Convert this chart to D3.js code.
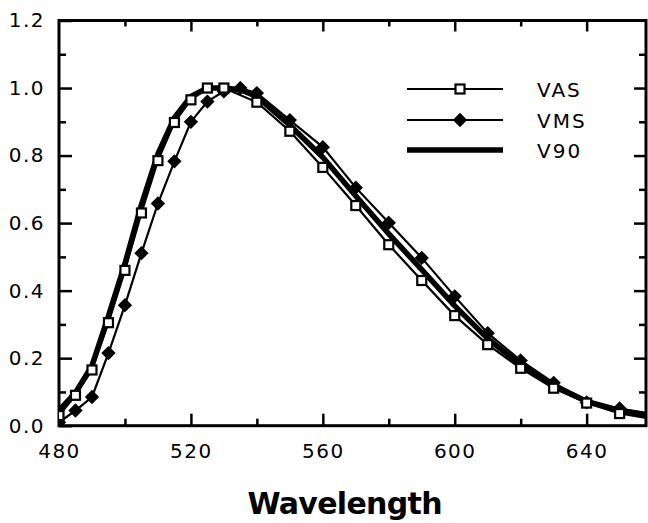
<!DOCTYPE html>
<html>
<head>
<meta charset="utf-8">
<script src="https://cdn.jsdelivr.net/npm/d3@7"></script>
<style>
  body { margin: 0; background: #fff; }
  svg { display: block; }
  text { font-family: "DejaVu Sans", sans-serif; fill: #000; }
</style>
</head>
<body>
<div id="vizContainer"></div>
<script>
let w = 648;
let h = 523;

// data
let vasWave = [480, 485, 490, 495, 500, 505, 510, 515, 520, 525, 530, 540, 550, 560, 570, 580, 590, 600, 610, 620, 630, 640, 650, 660];
let vasValues = [0.03, 0.09, 0.165, 0.305, 0.46, 0.63, 0.785, 0.898, 0.965, 1.0, 1.0, 0.958, 0.872, 0.765, 0.652, 0.536, 0.43, 0.326, 0.24, 0.17, 0.111, 0.067, 0.036, 0.02];

let vmsWave = [480, 485, 490, 495, 500, 505, 510, 515, 520, 525, 530, 535, 540, 550, 560, 570, 580, 590, 600, 610, 620, 630, 640, 650, 660];
let vmsValues = [0.01, 0.045, 0.085, 0.215, 0.357, 0.511, 0.658, 0.783, 0.9, 0.96, 0.99, 1.0, 0.985, 0.905, 0.825, 0.705, 0.601, 0.497, 0.383, 0.274, 0.193, 0.127, 0.069, 0.051, 0.035];

let v90Wave = [480, 485, 490, 495, 500, 505, 510, 515, 520, 525, 530, 535, 540, 550, 560, 570, 580, 590, 600, 610, 620, 630, 640, 650, 660];
let v90Values = [0.045, 0.098, 0.178, 0.325, 0.48, 0.655, 0.805, 0.912, 0.975, 1.0, 1.0, 0.995, 0.975, 0.89, 0.795, 0.68, 0.568, 0.462, 0.355, 0.258, 0.18, 0.12, 0.072, 0.045, 0.028];

let xMajor = [480, 520, 560, 600, 640];
let xMinor = [500, 540, 580, 620];
let yMajor = [0, 0.2, 0.4, 0.6, 0.8, 1.0, 1.2];
let yMinor = [0.1, 0.3, 0.5, 0.7, 0.9, 1.1];

let legendNames = ["VAS", "VMS", "V90"];

let pLeft = 59, pRight = 646, pTop = 20.5, pBottom = 425.7;

let viz = d3.select("#vizContainer").append("svg")
	.attr("width", w)
	.attr("height", h)
	.attr("class", "viz")
	;

let xScale = d3.scaleLinear().domain([480, 658]).range([pLeft, pRight]);
let yScale = d3.scaleLinear().domain([0, 1.2]).range([pBottom, pTop]);

viz.append("clipPath").attr("id", "plotClip")
	.append("rect")
	.attr("x", pLeft).attr("y", pTop - 10)
	.attr("width", pRight - pLeft).attr("height", pBottom - pTop + 10);

// axes: major + minor ticks, pointing inward on all four sides
function styleAxis(g, showText) {
	g.select(".domain").remove();
	g.selectAll("line").attr("stroke", "#000").attr("stroke-width", 2.5);
	if (!showText) g.selectAll("text").remove();
	g.selectAll("text").attr("font-size", 20).attr("letter-spacing", 1.5).attr("fill", "#000")
		.style("font-family", "'DejaVu Sans', sans-serif");
}

viz.append("g").attr("transform", "translate(0," + pBottom + ")")
	.call(d3.axisBottom(xScale).tickValues(xMajor).tickSize(-12).tickPadding(18).tickFormat(d3.format("d")))
	.call(g => styleAxis(g, true));
viz.append("g").attr("transform", "translate(0," + pBottom + ")")
	.call(d3.axisBottom(xScale).tickValues(xMinor).tickSize(-7))
	.call(g => styleAxis(g, false));
viz.append("g").attr("transform", "translate(0," + pTop + ")")
	.call(d3.axisTop(xScale).tickValues(xMajor.slice(1)).tickSize(-11))
	.call(g => styleAxis(g, false));
viz.append("g").attr("transform", "translate(0," + pTop + ")")
	.call(d3.axisTop(xScale).tickValues(xMinor).tickSize(-6))
	.call(g => styleAxis(g, false));

viz.append("g").attr("transform", "translate(" + pLeft + ",0)")
	.call(d3.axisLeft(yScale).tickValues(yMajor).tickSize(-13).tickPadding(14).tickFormat(d3.format(".1f")))
	.call(g => styleAxis(g, true));
viz.append("g").attr("transform", "translate(" + pLeft + ",0)")
	.call(d3.axisLeft(yScale).tickValues(yMinor).tickSize(-7))
	.call(g => styleAxis(g, false));
viz.append("g").attr("transform", "translate(" + pRight + ",0)")
	.call(d3.axisRight(yScale).tickValues(yMajor.slice(1, 6)).tickSize(-12))
	.call(g => styleAxis(g, false));
viz.append("g").attr("transform", "translate(" + pRight + ",0)")
	.call(d3.axisRight(yScale).tickValues(yMinor).tickSize(-7))
	.call(g => styleAxis(g, false));

// frame
viz.append("rect")
	.attr("x", pLeft).attr("y", pTop)
	.attr("width", pRight - pLeft).attr("height", pBottom - pTop)
	.attr("fill", "none").attr("stroke", "#000").attr("stroke-width", 3);

let line = d3.line().x(d => xScale(d[0])).y(d => yScale(d[1]));

let vas = d3.zip(vasWave, vasValues);
let vms = d3.zip(vmsWave, vmsValues);
let v90 = d3.zip(v90Wave, v90Values);

let plot = viz.append("g").attr("clip-path", "url(#plotClip)");

plot.append("path").datum(v90).attr("d", line)
	.attr("fill", "none").attr("stroke", "#000").attr("stroke-width", 5.5).attr("stroke-linejoin", "round");
plot.append("path").datum(vas).attr("d", line)
	.attr("fill", "none").attr("stroke", "#000").attr("stroke-width", 2.2);
plot.append("path").datum(vms).attr("d", line)
	.attr("fill", "none").attr("stroke", "#000").attr("stroke-width", 2.2);

let diamond = d3.symbol().type(d3.symbolDiamond2).size(95);

plot.selectAll(".vms").data(vms).enter().append("path")
	.attr("class", "vms")
	.attr("d", diamond)
	.attr("transform", d => "translate(" + xScale(d[0]) + "," + yScale(d[1]) + ")")
	.attr("fill", "#000").attr("stroke", "#000").attr("stroke-width", 1.5);

plot.selectAll(".vas").data(vas).enter().append("rect")
	.attr("class", "vas")
	.attr("x", d => xScale(d[0]) - 4.5)
	.attr("y", d => yScale(d[1]) - 4.5)
	.attr("width", 9).attr("height", 9)
	.attr("fill", "#fff").attr("stroke", "#000").attr("stroke-width", 2.2);

// legend
let legend = viz.append("g").attr("class", "legend");
let legY = [89, 120, 150];
legendNames.forEach(function (name, i) {
	legend.append("line")
		.attr("x1", 407).attr("x2", 503)
		.attr("y1", legY[i]).attr("y2", legY[i])
		.attr("stroke", "#000").attr("stroke-width", i == 2 ? 5.5 : 2.2);
	if (i == 0) {
		legend.append("rect").attr("x", 455.5).attr("y", legY[i] - 4.5)
			.attr("width", 9).attr("height", 9)
			.attr("fill", "#fff").attr("stroke", "#000").attr("stroke-width", 2.2);
	}
	if (i == 1) {
		legend.append("path").attr("d", diamond)
			.attr("transform", "translate(460," + legY[i] + ")")
			.attr("fill", "#000").attr("stroke", "#000").attr("stroke-width", 1.5);
	}
	legend.append("text")
		.attr("x", 537).attr("y", legY[i] + 7.5)
		.attr("font-size", 20).attr("letter-spacing", 2)
		.text(name);
});

// axis title
viz.append("text")
	.attr("x", 345).attr("y", 514)
	.attr("text-anchor", "middle")
	.attr("font-size", 30).attr("font-weight", "bold")
	.attr("textLength", 195).attr("lengthAdjust", "spacing")
	.text("Wavelength");
</script>
</body>
</html>
